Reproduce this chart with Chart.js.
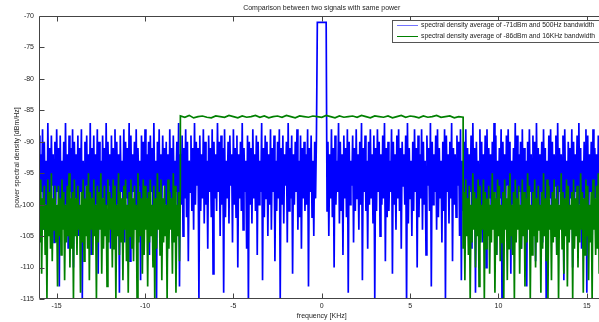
<!DOCTYPE html>
<html>
<head>
<meta charset="utf-8">
<script src="https://cdn.jsdelivr.net/npm/chart.js@4.4.1/dist/chart.umd.min.js"></script>
<style>
  html, body { margin: 0; padding: 0; overflow: hidden; background: #fff; }
  canvas { display: block; }
</style>
</head>
<body>
<canvas id="psdChart" width="606" height="322"></canvas>
<script>
// tick labels
const xTicks = [-15, -10, -5, 0, 5, 10, 15];
const yTicks = [-70, -75, -80, -85, -90, -95, -100, -105, -110, -115];

// blue signal : noise from -16 to -0.3 kHz and from 0.3 to 16 kHz, every 0.05 kHz
const blueLeft = [
  -89,-101,-92,-98,-88,-104,-90,-100,-93,-109,-87,-99,-91,-102,-89,-97,-92,-106,-90,-100,
  -88,-98,-91,-113,-89,-101,-93,-99,-90,-103,-87,-100,-92,-107,-89,-98,-91,-101,-88,-110,
  -90,-99,-92,-102,-89,-105,-91,-98,-88,-115,-93,-100,-90,-97,-89,-103,-92,-101,-87,-108,
  -91,-99,-89,-104,-92,-100,-88,-111,-90,-98,-93,-102,-89,-99,-91,-105,-87,-100,-90,-97,
  -92,-107,-89,-101,-91,-99,-88,-103,-90,-100,-92,-114,-89,-98,-93,-101,-88,-106,-90,-99,
  -91,-102,-87,-109,-89,-100,-92,-98,-90,-104,-88,-101,-91,-97,-93,-112,-89,-100,-90,-103,
  -88,-99,-92,-101,-90,-108,-89,-98,-91,-102,-87,-100,-93,-116,-90,-99,-88,-104,-92,-101,
  -89,-97,-91,-100,-90,-110,-92,-103,-88,-99,-91,-106,-89,-101,-93,-98,-90,-102,-87,-113,
  -92,-100,-89,-105,-91,-99,-88,-102,-90,-109,-93,-98,-89,-101,-91,-104,-87,-100,-90,-97,
  -91,-115,-89,-101,-92,-99,-88,-103,-90,-100,-93,-107,-89,-98,-91,-102,-88,-111,-90,-99,
  -92,-101,-87,-98,-90,-105,-89,-100,-91,-114,-88,-102,-93,-99,-90,-103,-89,-97,-92,-106,
  -88,-100,-91,-102,-89,-110,-92,-99,-90,-101,-87,-104,-91,-98,-93,-107,-89,-116,-90,-100,
  -91,-103,-88,-99,-92,-101,-89,-108,-90,-100,-93,-98,-87,-112,-91,-102,-89,-99,-90,-105,
  -92,-100,-88,-104,-91,-98,-89,-109,-93,-101,-90,-99,-88,-115,-91,-100,-89,-103,-92,-97,
  -90,-106,-87,-101,-91,-99,-89,-111,-92,-100,-90,-98,-88,-104,-93,-102,-89,-107,-91,-99,
  -90,-101,-92,-100,-88,-113,-91,-98,-89,-102,-93,-105,-90,-99,-89
];
const blueRight = [
  -101,-90,-105,-92,-99,-88,-102,-91,-110,-89,-100,-93,-98,-87,-103,-90,-101,-92,-108,-89,
  -99,-91,-102,-88,-114,-90,-100,-93,-97,-89,-106,-91,-101,-88,-99,-92,-104,-90,-100,-87,
  -112,-91,-98,-89,-101,-93,-107,-90,-100,-88,-99,-92,-103,-89,-115,-91,-101,-88,-98,-90,
  -105,-92,-100,-89,-99,-87,-109,-91,-102,-90,-101,-93,-98,-88,-111,-90,-100,-92,-104,-89,
  -99,-88,-101,-91,-107,-90,-97,-92,-100,-89,-116,-87,-103,-91,-99,-93,-105,-90,-101,-88,
  -98,-91,-110,-89,-102,-92,-99,-88,-104,-90,-100,-93,-108,-89,-97,-91,-101,-87,-113,-90,
  -100,-92,-98,-89,-104,-88,-102,-91,-99,-93,-106,-90,-101,-88,-115,-89,-98,-92,-103,-90,
  -99,-87,-109,-91,-100,-92,-102,-89,-97,-90,-105,-88,-112,-93,-101,-90,-99,-88,-103,-91,
  -101,-92,-98,-89,-107,-87,-100,-91,-114,-90,-99,-93,-102,-88,-101,-90,-106,-92,-98,-89,
  -110,-88,-102,-91,-99,-92,-104,-90,-101,-87,-98,-89,-108,-93,-100,-91,-99,-88,-116,-90,
  -100,-92,-103,-89,-97,-88,-101,-90,-111,-93,-100,-91,-99,-87,-105,-89,-102,-92,-98,-90,
  -107,-88,-101,-91,-99,-93,-113,-90,-100,-88,-98,-92,-104,-89,-101,-90,-109,-87,-99,-91,
  -102,-92,-98,-90,-106,-88,-100,-91,-115,-93,-103,-89,-99,-88,-101,-90,-104,-92,-97,-89,
  -108,-87,-100,-91,-98,-92,-101,-89,-112,-88,-99,-93,-105,-90,-102,-91,-99,-88,-110,-90,
  -101,-92,-98,-89,-104,-87,-100,-91,-107,-93,-99,-90,-101,-88,-114,-89,-103,-92,-98,-90,
  -106,-88,-101,-91,-99,-92,-103,-89,-100,-87,-109,-90,-98,-92,-101
];
// narrow tone, 500 Hz wide
const toneFreq = [-0.25, 0.25];
const toneLevel = [-71, -71];

// green signal : noise outside +-8 kHz (every 0.05 kHz), flat in between (every 0.25 kHz)
const greenLeft = [
  -98,-106,-96,-111,-99,-104,-97,-108,-100,-115,-96,-105,-98,-107,-95,-109,-99,-104,-97,-106,
  -100,-113,-97,-105,-99,-108,-96,-104,-98,-112,-100,-106,-97,-105,-95,-110,-99,-107,-98,-115,
  -96,-105,-99,-108,-97,-104,-100,-114,-98,-106,-96,-109,-99,-105,-97,-107,-95,-112,-98,-104,
  -99,-108,-96,-105,-100,-115,-97,-106,-98,-104,-95,-111,-99,-107,-97,-105,-100,-113,-96,-106,
  -98,-104,-99,-110,-96,-107,-97,-115,-100,-105,-95,-108,-98,-106,-99,-112,-97,-104,-96,-109,
  -100,-114,-98,-105,-96,-107,-99,-109,-97,-104,-100,-115,-95,-106,-98,-105,-99,-111,-96,-108,
  -97,-104,-99,-113,-98,-106,-96,-105,-100,-110,-97,-115,-99,-107,-95,-104,-98,-108,-96,-112,
  -99,-106,-97,-105,-100,-115,-96,-107,-98,-104,-99,-111,-95,-106,-97,-114,-100,-105,-98,-109,
  -97
];
const greenMid = [
  -85.9,-86.1,-85.8,-86.2,-86.0,-85.9,-86.1,-86.2,-85.9,-86.0,
  -86.1,-85.8,-86.0,-86.2,-85.9,-86.1,-86.0,-85.8,-86.1,-85.9,
  -86.2,-86.0,-85.9,-86.1,-85.8,-86.0,-86.2,-85.9,-86.0,-86.1,
  -85.9,-86.0,-86.1,-85.8,-86.0,-86.2,-85.9,-86.1,-86.0,-85.9,
  -86.1,-85.8,-86.0,-86.2,-85.9,-86.0,-86.1,-85.9,-86.2,-86.0,
  -85.8,-86.1,-85.9,-86.0,-86.2,-85.9,-86.1,-86.0,-85.8,-86.1,
  -86.0,-85.9,-86.2,-86.0,-86.1
];
const greenRight = [
  -107,-98,-112,-96,-105,-99,-108,-97,-115,-100,-106,-95,-104,-98,-110,-99,-105,-96,-113,-97,
  -106,-100,-104,-96,-115,-98,-107,-99,-105,-97,-111,-100,-106,-95,-104,-98,-114,-99,-108,-96,
  -105,-97,-109,-100,-106,-98,-115,-96,-104,-99,-112,-97,-107,-95,-105,-100,-108,-98,-115,-96,
  -106,-99,-104,-97,-111,-100,-107,-96,-105,-98,-113,-99,-106,-95,-104,-97,-115,-100,-108,-98,
  -105,-96,-110,-99,-106,-97,-104,-100,-114,-98,-107,-95,-105,-99,-109,-96,-115,-97,-104,-100,
  -112,-98,-106,-96,-105,-99,-108,-97,-115,-100,-104,-95,-107,-98,-111,-99,-105,-96,-113,-97,
  -106,-100,-104,-98,-115,-96,-107,-99,-105,-97,-110,-100,-106,-95,-104,-98,-114,-99,-108,-96,
  -105,-97,-112,-100,-106,-98,-115,-96,-104,-99,-108,-97,-107,-95,-111,-100,-105,-98,-115,-97,
  -106
];

const seriesNames = [
  'spectral density average of -71dBm and 500Hz bandwidth',
  'spectral density average of -86dBm and 16KHz bandwidth'
];

// put values on their frequency grid (kHz)
function onGrid(values, start, step) {
  return values.map((v, i) => ({ x: +(start + i * step).toFixed(3), y: v }));
}

const blueData = [
  ...onGrid(blueLeft, -16, 0.05),
  ...toneFreq.map((f, i) => ({ x: f, y: toneLevel[i] })),
  ...onGrid(blueRight, 0.3, 0.05)
];
const greenData = [
  ...onGrid(greenLeft, -16, 0.05),
  ...onGrid(greenMid, -8, 0.25),
  ...onGrid(greenRight, 8, 0.05)
];

Chart.defaults.font.family = '"Liberation Sans", Arial, sans-serif';
Chart.defaults.font.size = 7;
Chart.defaults.color = '#222';

// boite et petits traits vers l'interieur, comme matlab
const matlabBox = {
  id: 'matlabBox',
  afterDatasetsDraw(chart) {
    const { ctx, chartArea: a, scales: { x, y } } = chart;
    ctx.save();
    ctx.strokeStyle = '#444';
    ctx.lineWidth = 1;
    ctx.beginPath();
    const L = Math.round(a.left) + 0.5, T = Math.round(a.top) + 0.5, B = Math.round(a.bottom) - 0.5;
    ctx.moveTo(a.right, T); ctx.lineTo(L, T); ctx.lineTo(L, B); ctx.lineTo(a.right, B);
    xTicks.forEach(v => {
      const px = Math.round(x.getPixelForValue(v)) + 0.5;
      ctx.moveTo(px, B); ctx.lineTo(px, B - 5);
      ctx.moveTo(px, T); ctx.lineTo(px, T + 5);
    });
    yTicks.forEach(v => {
      const py = Math.round(y.getPixelForValue(v)) + 0.5;
      ctx.moveTo(L, py); ctx.lineTo(L + 5, py);
    });
    ctx.stroke();
    ctx.restore();
  },
  afterDraw(chart) {
    // legende en haut a droite
    const { ctx } = chart;
    const ds = chart.data.datasets;
    ctx.save();
    ctx.fillStyle = '#fff';
    ctx.fillRect(392.5, 20.5, 212, 22);
    ctx.strokeStyle = '#555';
    ctx.lineWidth = 1;
    ctx.strokeRect(392.5, 20.5, 212, 22);
    ctx.font = '6.75px "Liberation Sans", Arial, sans-serif';
    ctx.textBaseline = 'middle';
    ds.forEach((d, i) => {
      const yy = 25.5 + i * 11;
      ctx.strokeStyle = d.borderColor;
      ctx.globalAlpha = i === 0 ? 0.55 : 1;
      ctx.lineWidth = 1;
      ctx.beginPath();
      ctx.moveTo(397, yy); ctx.lineTo(418, yy);
      ctx.stroke();
      ctx.globalAlpha = 1;
      ctx.fillStyle = '#222';
      ctx.fillText(d.label, 421, yy);
    });
    ctx.restore();
  }
};

const psdChart = new Chart(document.getElementById('psdChart'), {
  type: 'line',
  data: {
    datasets: [
      {
        label: seriesNames[0],
        data: blueData,
        borderColor: '#0000ff',
        borderWidth: 1.7,
        pointRadius: 0,
        tension: 0,
        order: 1
      },
      {
        label: seriesNames[1],
        data: greenData,
        borderColor: '#008000',
        borderWidth: 1.7,
        pointRadius: 0,
        tension: 0,
        order: 0
      }
    ]
  },
  options: {
    responsive: false,
    animation: false,
    layout: { padding: { right: 1.5 } },
    plugins: {
      legend: { display: false },
      tooltip: { enabled: false },
      title: {
        display: true,
        text: 'Comparison between two signals with same power',
        fullSize: false,
        font: { size: 7, weight: 'normal' },
        padding: { top: 4, bottom: 3.6 }
      }
    },
    scales: {
      x: {
        type: 'linear',
        min: -16,
        max: 16,
        afterBuildTicks: s => { s.ticks = xTicks.map(v => ({ value: v })); },
        afterFit: s => { s.height = 23; },
        grid: { display: false, drawTicks: false },
        border: { display: false },
        ticks: { padding: 3, autoSkip: false, maxRotation: 0 },
        title: { display: true, text: 'frequency [KHz]', padding: { top: 0, bottom: 2 } }
      },
      y: {
        min: -115,
        max: -70,
        afterBuildTicks: s => { s.ticks = yTicks.map(v => ({ value: v })); },
        afterFit: s => { s.width = 39; },
        grid: { display: false, drawTicks: false },
        border: { display: false },
        ticks: { padding: 5, autoSkip: false },
        title: { display: true, text: 'power spectral density [dBm/Hz]', padding: { top: 13, bottom: 0 } }
      }
    }
  },
  plugins: [matlabBox]
});
</script>
</body>
</html>
